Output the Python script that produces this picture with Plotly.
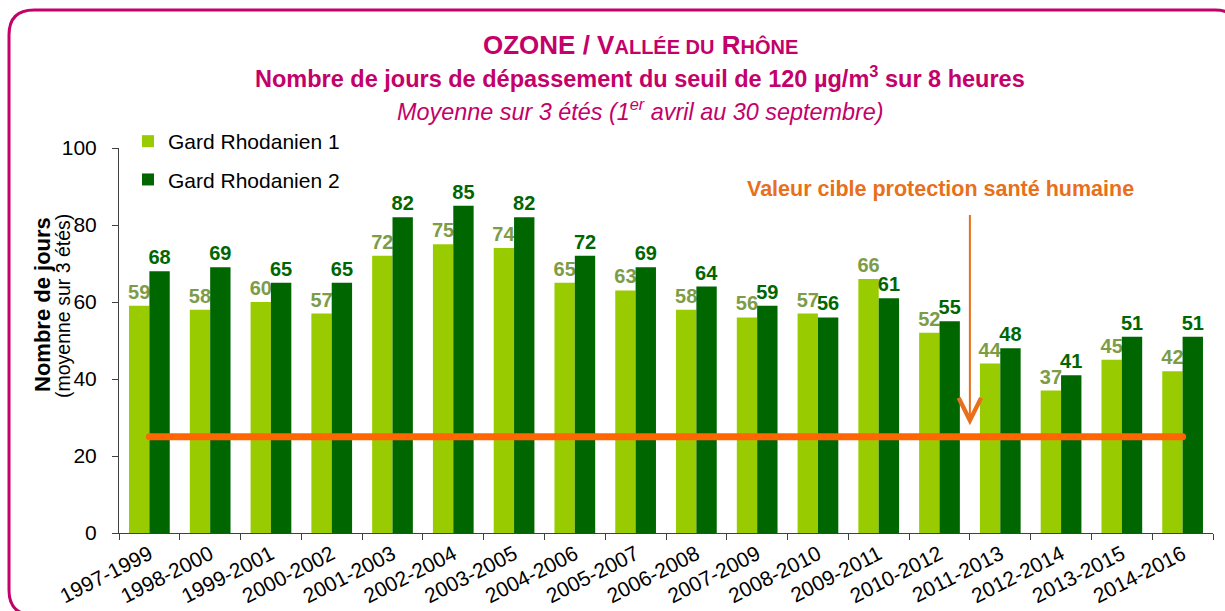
import plotly.graph_objects as go

periods = ["1997-1999", "1998-2000", "1999-2001", "2000-2002", "2001-2003", "2002-2004",
           "2003-2005", "2004-2006", "2005-2007", "2006-2008", "2007-2009", "2008-2010",
           "2009-2011", "2010-2012", "2011-2013", "2012-2014", "2013-2015", "2014-2016"]
gard1 = [59, 58, 60, 57, 72, 75, 74, 65, 63, 58, 56, 57, 66, 52, 44, 37, 45, 42]
gard2 = [68, 69, 65, 65, 82, 85, 82, 72, 69, 64, 59, 56, 61, 55, 48, 41, 51, 51]
target_value = 25
series_names = ["Gard Rhodanien 1", "Gard Rhodanien 2"]

W, H = 1225, 611
L, R, T, B = 119, 12, 148, 78
PW, PH = W - L - R, H - T - B


def px_x(p):
    return (p - L) / PW


def px_y(p):
    return (H - B - p) / PH


FONT = "Arial, Liberation Sans, sans-serif"
MAGENTA = "#C4006A"
ORANGE_TXT = "#E8701A"

fig = go.Figure()
fig.add_trace(go.Bar(
    x=periods, y=gard1, name=series_names[0], legendgroup="g1",
    marker=dict(color="#99CC00", line=dict(width=0)),
    text=gard1, texttemplate="<b>%{y}</b>", textposition="outside",
    textfont=dict(family=FONT, size=20, color="#7C9C47"),
    constraintext="none", cliponaxis=False,
))
fig.add_trace(go.Bar(
    x=periods, y=gard2, name=series_names[1], legendgroup="g2",
    marker=dict(color="#006600", line=dict(width=0)),
    text=gard2, texttemplate="<b>%{y}</b>", textposition="outside",
    textfont=dict(family=FONT, size=20, color="#006600"),
    constraintext="none", cliponaxis=False,
))
fig.add_trace(go.Scatter(
    x=[periods[0], periods[-1]], y=[target_value, target_value],
    mode="lines+markers", line=dict(color="#FF6600", width=7),
    marker=dict(color="#FF6600", size=7), showlegend=False, cliponaxis=False,
    hoverinfo="skip",
))

# rounded border (paper coords)
x0, x1 = px_x(9), px_x(1240)
y0, y1 = px_y(10), px_y(615)
rx, ry = 25 / PW, 25 / PH
path = (f"M{x0+rx},{y0} L{x1-rx},{y0} Q{x1},{y0} {x1},{y0-ry} "
        f"L{x1},{y1+ry} Q{x1},{y1} {x1-rx},{y1} L{x0+rx},{y1} "
        f"Q{x0},{y1} {x0},{y1+ry} L{x0},{y0-ry} Q{x0},{y0} {x0+rx},{y0} Z")
fig.add_shape(type="path", path=path, xref="paper", yref="paper",
              line=dict(color=MAGENTA, width=3), layer="above")

annotations = [
    dict(x=px_x(640), y=px_y(45), xref="paper", yref="paper", showarrow=False,
         xanchor="center", yanchor="middle",
         text="<b>OZONE / V<span style='font-size:20px'>ALLÉE DU</span> R<span style='font-size:20px'>HÔNE</span></b>",
         font=dict(family=FONT, size=26, color=MAGENTA)),
    dict(x=px_x(640), y=px_y(77), xref="paper", yref="paper", showarrow=False,
         xanchor="center", yanchor="middle",
         text="<b>Nombre de jours de dépassement du seuil de 120 µg/m<sup>3</sup> sur 8 heures</b>",
         font=dict(family=FONT, size=23.5, color=MAGENTA)),
    dict(x=px_x(640), y=px_y(110), xref="paper", yref="paper", showarrow=False,
         xanchor="center", yanchor="middle",
         text="<i>Moyenne sur 3 étés (1<sup>er</sup> avril au 30 septembre)</i>",
         font=dict(family=FONT, size=23.4, color=MAGENTA)),
    dict(x=px_x(42), y=px_y(305), xref="paper", yref="paper", showarrow=False,
         xanchor="center", yanchor="middle", textangle=-90,
         text="<b>Nombre de jours</b>",
         font=dict(family=FONT, size=22, color="#000000")),
    dict(x=px_x(63), y=px_y(306), xref="paper", yref="paper", showarrow=False,
         xanchor="center", yanchor="middle", textangle=-90,
         text="(moyenne sur 3 étés)",
         font=dict(family=FONT, size=19.5, color="#000000")),
    dict(x=px_x(940), y=px_y(189), xref="paper", yref="paper", showarrow=False,
         xanchor="center", yanchor="middle",
         text="<b>Valeur cible protection santé humaine</b>",
         font=dict(family=FONT, size=21.5, color=ORANGE_TXT)),
    dict(x=13.5, y=28, xref="x", yref="y", axref="x", ayref="y", ax=13.5, ay=83,
         showarrow=True, arrowhead=5, arrowsize=2.2, arrowwidth=2, arrowcolor=ORANGE_TXT,
         text=""),
]

fig.update_layout(
    width=W, height=H,
    margin=dict(l=L, r=R, t=T, b=B, autoexpand=False),
    paper_bgcolor="white", plot_bgcolor="white",
    barmode="group", bargap=0.33, bargroupgap=0,
    font=dict(family=FONT, color="#000000"),
    showlegend=True,
    legend=dict(x=px_x(128), y=px_y(121), xanchor="left", yanchor="top",
                font=dict(family=FONT, size=21, color="#000000"),
                traceorder="grouped", tracegroupgap=8, bgcolor="rgba(0,0,0,0)"),
    annotations=annotations,
    xaxis=dict(type="category", range=[-0.5, len(periods) - 0.5], tickson="boundaries",
               ticks="outside", ticklen=6,
               tickcolor="#404040", showline=True, linecolor="#404040", linewidth=1,
               tickangle=-27, tickfont=dict(family=FONT, size=21, color="#000000"),
               showgrid=False, zeroline=False),
    yaxis=dict(range=[0, 100], dtick=20, ticks="outside", ticklen=6, tickcolor="#404040",
               showline=True, linecolor="#404040", linewidth=1, showgrid=False,
               ticklabelstandoff=11,
               zeroline=False, tickfont=dict(family=FONT, size=21, color="#000000")),
)

fig.write_html("out.html", config={"displayModeBar": False},
               post_script="document.body.style.margin='0';document.body.style.overflow='hidden';")
